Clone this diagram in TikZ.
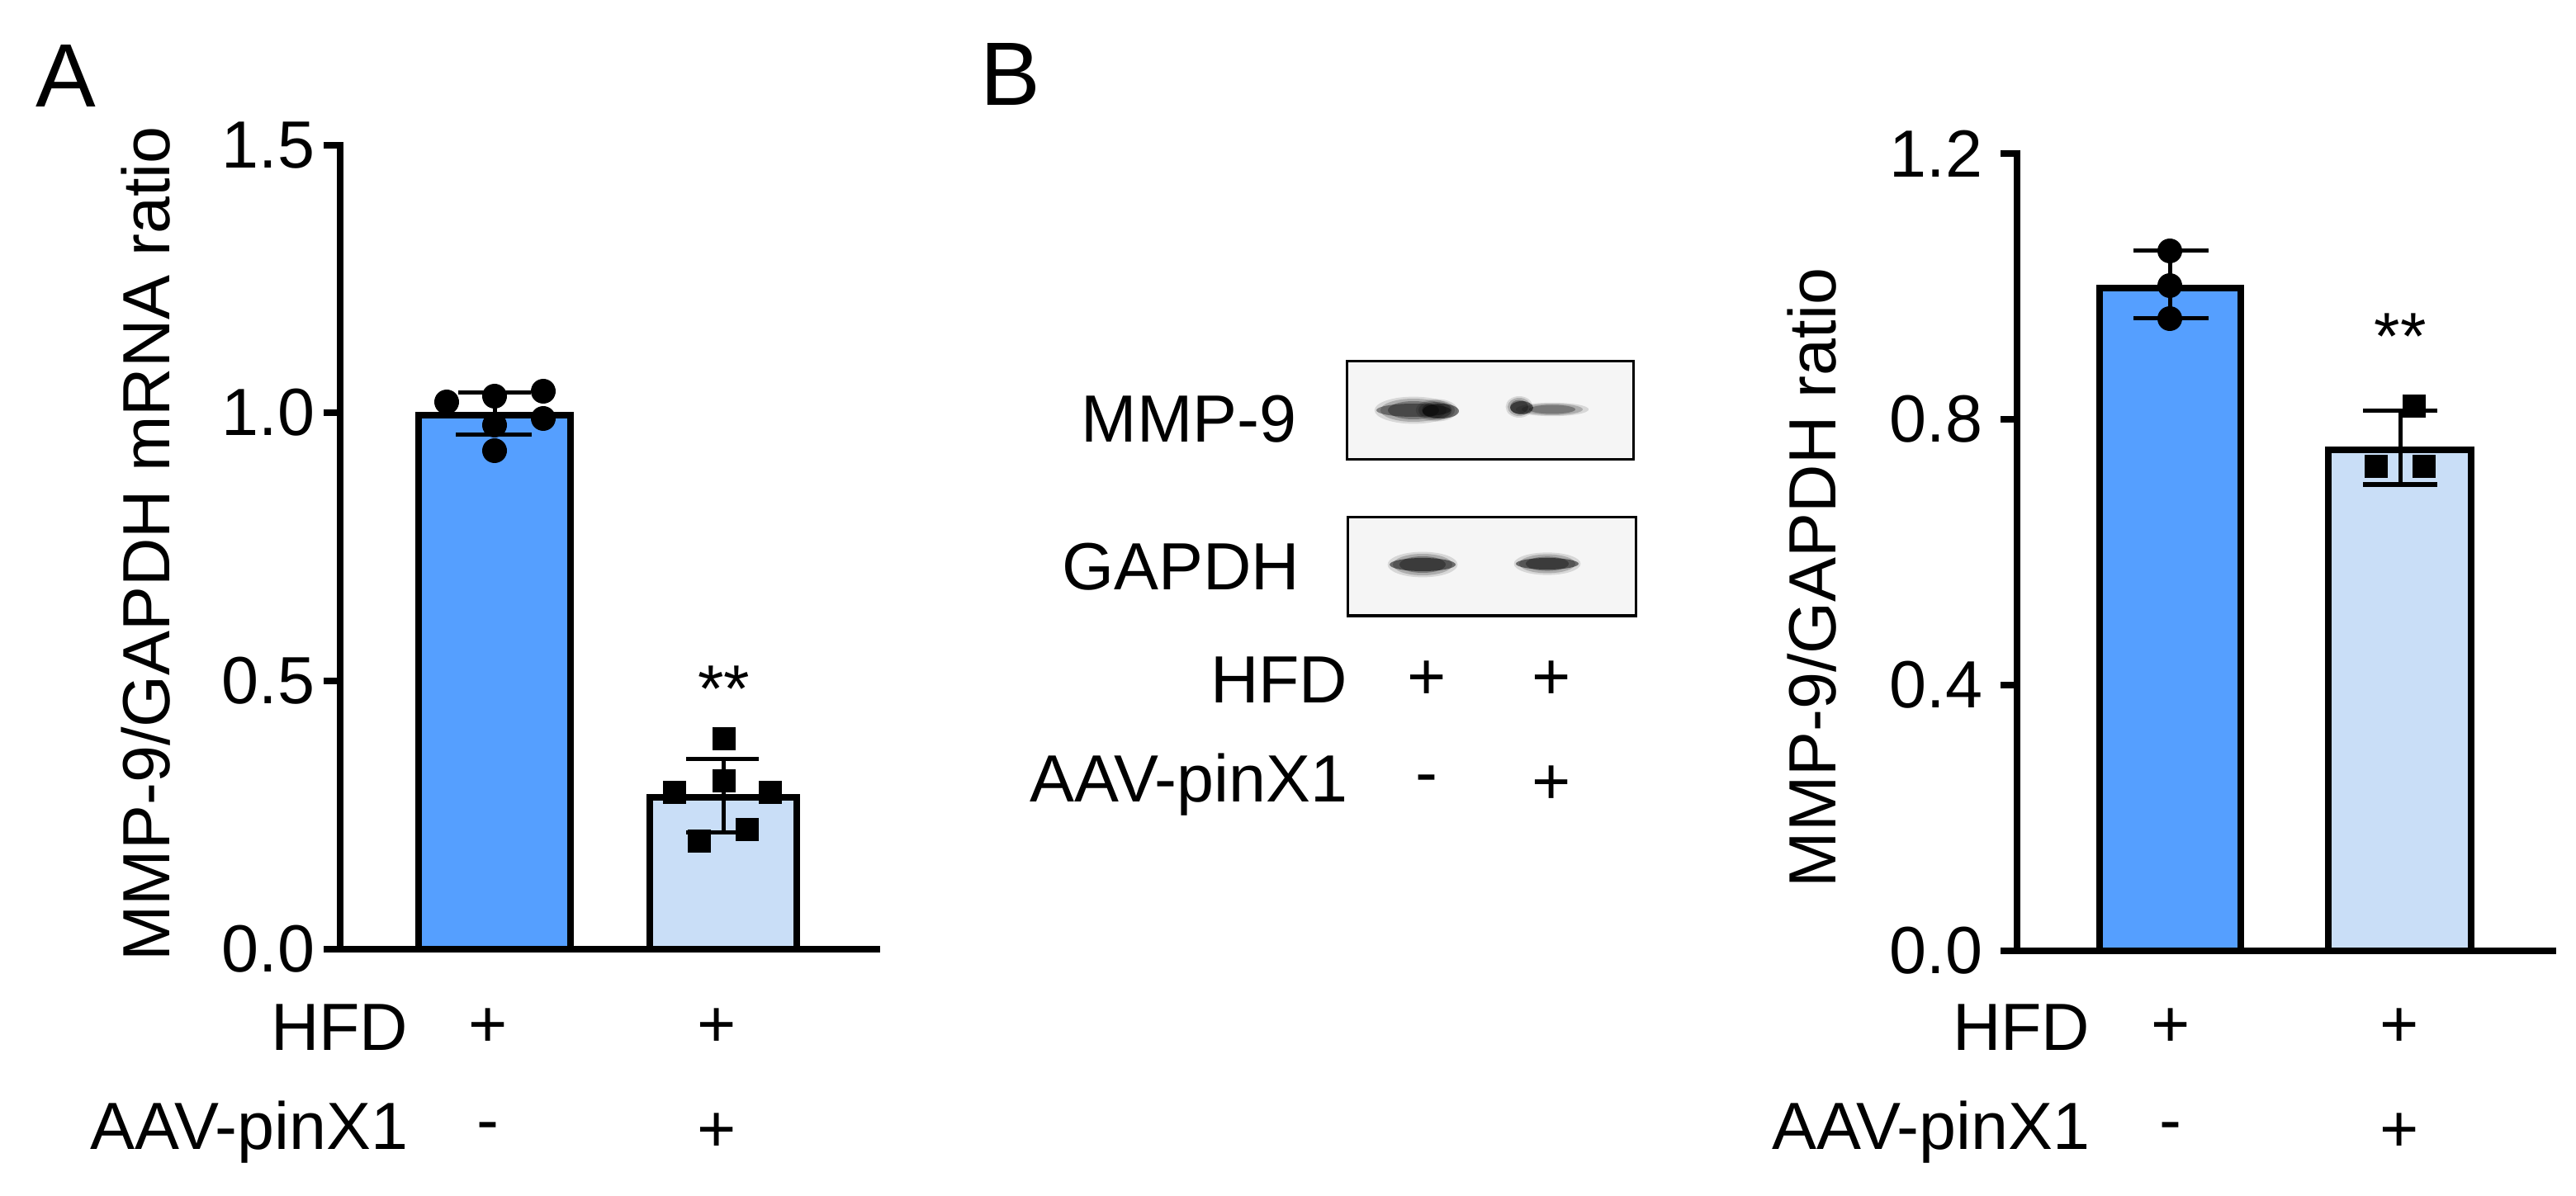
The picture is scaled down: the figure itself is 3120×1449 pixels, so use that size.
\documentclass[tikz,border=0pt]{standalone}
\usepackage{fontspec}
\setmainfont{Liberation Sans}
\begin{document}
\begin{tikzpicture}[x=0.01cm,y=-0.01cm,
  ax/.style={line width=8\pgflinewidth},
  ln/.style={line width=0.075cm},
  eb/.style={line width=0.05cm},
  barD/.style={fill=barDark,draw=black,line width=0.075cm},
  barL/.style={fill=barLight,draw=black,line width=0.075cm},
  txt/.style={font=\fontsize{23}{27}\selectfont,inner sep=0pt},
  rtxt/.style={txt,anchor=east},
  pt/.style={fill=black,draw=none},
  panel/.style={font=\fontsize{31}{36}\selectfont,inner sep=0pt},
  blot/.style={draw=black,line width=0.03cm,fill=black!4}]
\definecolor{barDark}{HTML}{559FFF}
\definecolor{barLight}{HTML}{C9DEF7}
\useasboundingbox (0,0) rectangle (3120,1449);
% ---------- Panel A ----------
\node[panel] (lblA) at (80,92) {A};
\node[txt,rotate=90] (ylabA) at (177,659) {MMP-9/GAPDH mRNA ratio};
\draw[barD] (507,1150) rectangle (691,503);
\draw[barL] (787,1150) rectangle (965,966);
\draw[ln] (392,176) -- (412,176) -- (412,1150) -- (1066,1150);
\foreach \yy in {500,825,1150} \draw[ln] (392,\yy) -- (412,\yy);
\node[rtxt] (tA15) at (382,176) {1.5};
\node[rtxt] (tA10) at (382,500) {1.0};
\node[rtxt] (tA05) at (382,825) {0.5};
\node[rtxt] (tA00) at (382,1150) {0.0};
% error bars A
\draw[eb] (599,476) -- (599,527);
\draw[eb] (555,476) -- (643,476);
\draw[eb] (552,527) -- (644,527);
\draw[eb] (876,919) -- (876,1008);
\draw[eb] (831,919) -- (919,919);
\draw[eb] (831,1008) -- (919,1008);
% points A
\foreach \px/\py in {541/487,599/480,658/474,599/515,658/507,599/546}
  \fill[pt] (\px,\py) circle (15);
\foreach \px/\py in {877/895,877/946,817/960,933/960,847/1019,905/1005}
  \fill[pt] (\px-14,\py-14) rectangle (\px+14,\py+14);
\node[txt] (starA) at (877,835) {**};
\node[rtxt] (hfdA) at (495,1245) {HFD};
\node[txt] (hfdA1) at (591,1245) {+};
\node[txt] (hfdA2) at (868,1245) {+};
\node[rtxt] (aavA) at (495,1372) {AAV-pinX1};
\node[txt] (aavA1) at (591,1372) {-};
\node[txt] (aavA2) at (868,1372) {+};
% ---------- Panel B blot ----------
\node[panel] (lblB) at (1224,90) {B};
\draw[blot] (1631,438) rectangle (1978,557);
\draw[blot] (1632,627) rectangle (1981,746);
\foreach \o in {0.12,0.2,0.3} {
  \fill[black,opacity=\o] (1712,497) ellipse ({58-90*\o} and {20-30*\o});
  \fill[black,opacity=\o] (1740,497) ellipse ({30-40*\o} and {16-20*\o});
  \fill[black,opacity=\o] (1880,496) ellipse ({55-90*\o} and {10-15*\o});
  \fill[black,opacity=\o] (1840,493) ellipse ({20-30*\o} and {16-25*\o});
  \fill[black,opacity=\o] (1723,684) ellipse ({52-80*\o} and {19-30*\o});
  \fill[black,opacity=\o] (1874,683) ellipse ({50-80*\o} and {17-28*\o});
}
\fill[black,opacity=0.4] (1712,497) ellipse (45 and 8);
\fill[black,opacity=0.5] (1745,498) ellipse (22 and 9);
\fill[black,opacity=0.5] (1843,494) ellipse (14 and 8);
\fill[black,opacity=0.5] (1723,684) ellipse (40 and 8);
\fill[black,opacity=0.5] (1874,683) ellipse (38 and 7);
\node[rtxt] (mmp) at (1571,508) {MMP-9};
\node[rtxt] (gapdh) at (1575,687) {GAPDH};
\node[rtxt] (hfdW) at (1633,824) {HFD};
\node[txt] (hfdW1) at (1728,824) {+};
\node[txt] (hfdW2) at (1879,824) {+};
\node[rtxt] (aavW) at (1633,951) {AAV-pinX1};
\node[txt] (aavW1) at (1728,951) {-};
\node[txt] (aavW2) at (1879,951) {+};
% ---------- Panel B chart ----------
\node[txt,rotate=90] (ylabB) at (2195,700) {MMP-9/GAPDH ratio};
\draw[barD] (2543,1152) rectangle (2714,349);
\draw[barL] (2820,1152) rectangle (2993,545);
\draw[ln] (2423,186) -- (2443,186) -- (2443,1152) -- (3096,1152);
\foreach \yy in {508,830,1152} \draw[ln] (2423,\yy) -- (2443,\yy);
\node[rtxt] (tB12) at (2402,186) {1.2};
\node[rtxt] (tB08) at (2402,508) {0.8};
\node[rtxt] (tB04) at (2402,830) {0.4};
\node[rtxt] (tB00) at (2402,1152) {0.0};
\draw[eb] (2628,304) -- (2628,386);
\draw[eb] (2584,304) -- (2675,304);
\draw[eb] (2584,386) -- (2675,386);
\draw[eb] (2907,498) -- (2907,587);
\draw[eb] (2862,498) -- (2952,498);
\draw[eb] (2862,587) -- (2952,587);
\foreach \py in {304,346,386} \fill[pt] (2628,\py) circle (15);
\foreach \px/\py in {2924/492,2878/565,2936/565}
  \fill[pt] (\px-14,\py-14) rectangle (\px+14,\py+14);
\node[txt] (starB) at (2907,408) {**};
\node[rtxt] (hfdB) at (2532,1245) {HFD};
\node[txt] (hfdB1) at (2629,1245) {+};
\node[txt] (hfdB2) at (2906,1245) {+};
\node[rtxt] (aavB) at (2532,1372) {AAV-pinX1};
\node[txt] (aavB1) at (2629,1372) {-};
\node[txt] (aavB2) at (2906,1372) {+};
\end{tikzpicture}
\end{document}
